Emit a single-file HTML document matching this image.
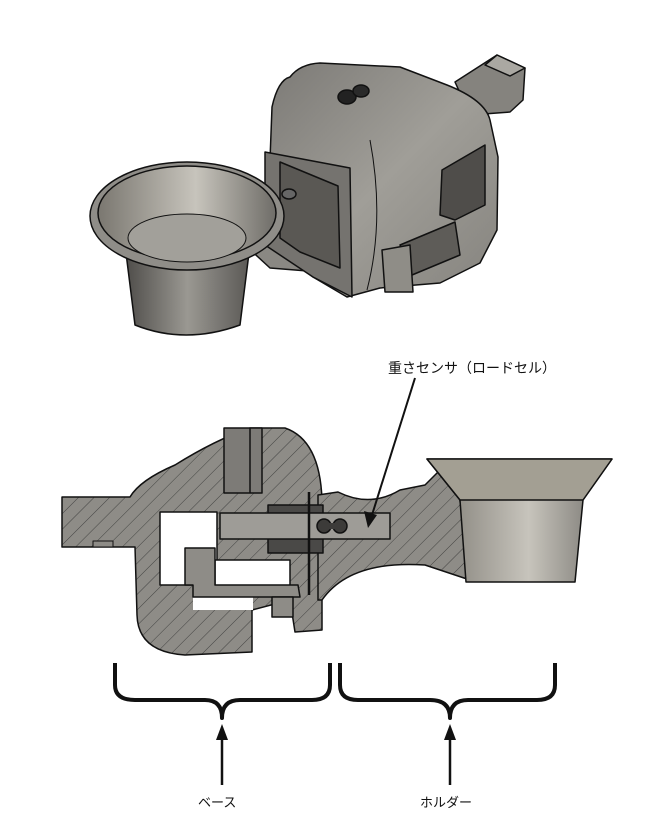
<!DOCTYPE html>
<html><head><meta charset="utf-8"><style>
html,body{margin:0;padding:0;background:#fff;}
svg{display:block;}
text{font-family:"Liberation Sans","Noto Sans CJK JP",sans-serif;}
</style></head><body>
<svg width="670" height="834" viewBox="0 0 670 834" xmlns="http://www.w3.org/2000/svg">
<defs>
<pattern id="h" width="11" height="11" patternUnits="userSpaceOnUse" patternTransform="rotate(45)">
<rect width="11" height="11" fill="#8e8c87"/><line x1="0" y1="0" x2="0" y2="11" stroke="#3a3a3a" stroke-width="0.9"/>
</pattern>
<linearGradient id="g1" x1="0" x2="1"><stop offset="0" stop-color="#4e4c49"/><stop offset="0.5" stop-color="#9a9892"/><stop offset="1" stop-color="#5a5855"/></linearGradient>
<linearGradient id="g2" x1="0" x2="1"><stop offset="0" stop-color="#7a7770"/><stop offset="0.55" stop-color="#c7c4bc"/><stop offset="1" stop-color="#6f6d68"/></linearGradient>
<linearGradient id="g3" x1="0" y1="0" x2="1" y2="1"><stop offset="0" stop-color="#7c7a76"/><stop offset="0.5" stop-color="#a09e98"/><stop offset="1" stop-color="#85837e"/></linearGradient>
</defs>
<g stroke="#111" stroke-width="1.5" stroke-linejoin="round">
<!-- top render -->
<path d="M455,82 L497,55 L525,68 L523,100 L510,112 L470,115 Z" fill="#85837e"/>
<path d="M497,55 L525,68 L510,76 L485,65 Z" fill="#aaa8a2"/>
<path d="M250,190 L290,178 L345,190 L348,262 L320,272 L270,268 L245,245 Z" fill="#8a8883"/>
<path d="M270,160 L272,107 Q278,80 290,77 Q300,64 320,63 L400,67 L447,85 Q485,100 490,120 L498,157 L497,230 L480,263 L440,283 L380,288 L347,297 L313,277 L270,243 Z" fill="url(#g3)"/>
<path d="M370,140 Q385,220 367,290" fill="none" stroke-width="1"/>
<path d="M265,152 L350,168 L352,297 L313,277 L265,245 Z" fill="#75736f"/>
<path d="M280,162 L338,186 L340,268 L300,252 L280,238 Z" fill="#5a5854"/>
<path d="M442,170 L485,145 L485,205 L455,220 L440,215 Z" fill="#4f4d4a"/>
<path d="M400,245 L455,222 L460,255 L412,275 Z" fill="#5e5c58"/>
<path d="M382,250 L410,245 L413,292 L385,292 Z" fill="#8f8d87"/>
<ellipse cx="347" cy="97" rx="9" ry="7" fill="#222"/><ellipse cx="361" cy="91" rx="8" ry="6" fill="#2a2a2a"/>
<ellipse cx="289" cy="194" rx="7" ry="5" fill="#666"/>
<path d="M125,245 L135,325 Q185,345 240,325 L250,245 Z" fill="url(#g1)"/>
<ellipse cx="187" cy="216" rx="97" ry="54" fill="#8f8d88"/>
<ellipse cx="187" cy="213" rx="89" ry="47" fill="url(#g2)"/>
<ellipse cx="187" cy="238" rx="59" ry="24" fill="#a2a09a" stroke-width="1"/>
<!-- section: base -->
<path d="M62,497 L130,497 Q140,480 175,465 Q215,440 250,428 L285,428 Q320,440 322,500 L322,630 L295,632 L290,600 L252,610 L252,652 L185,655 Q138,652 137,615 L135,547 L62,547 Z" fill="url(#h)"/>
<!-- holder -->
<path d="M318,495 L338,492 Q370,508 400,490 L425,485 L440,470 L458,485 L470,580 L425,565 Q350,560 322,600 L318,600 Z" fill="url(#h)"/>
<rect x="160" y="512" width="57" height="73" fill="#fff"/>
<rect x="215" y="560" width="75" height="28" fill="#fff"/>
<rect x="193" y="597" width="60" height="13" fill="#fff" stroke="none"/>
<path d="M185,548 L215,548 L215,585 L298,585 L300,597 L193,597 L193,585 L185,585 Z" fill="#8e8c87"/>
<rect x="272" y="597" width="21" height="20" fill="#8e8c87"/>
<rect x="224" y="428" width="38" height="65" fill="#7d7b77"/>
<line x1="250" y1="428" x2="250" y2="493"/>
<rect x="268" y="505" width="55" height="48" fill="#4a4947"/>
<rect x="220" y="513" width="170" height="26" fill="#9e9c97"/>
<circle cx="324" cy="526" r="7" fill="#3c3b39"/><circle cx="340" cy="526" r="7" fill="#3c3b39"/>
<rect x="323" y="523" width="16" height="6" fill="#3c3b39" stroke="none"/>
<line x1="309" y1="492" x2="309" y2="595" stroke-width="2.5"/>
<rect x="93" y="541" width="20" height="6" fill="#8e8c87" stroke-width="1"/>
<path d="M427,459 L612,459 L583,500 L575,582 L466,582 L460,500 Z" fill="url(#g2)"/>
<path d="M427,459 L612,459 L583,500 L460,500 Z" fill="#a39f93"/>
<!-- braces -->
<g fill="none" stroke-width="4">
<path d="M115,663 L115,685 Q115,700 135,700 L205,700 Q222,700 222,718 Q222,700 240,700 L312,700 Q330,700 330,685 L330,663"/>
<path d="M340,663 L340,685 Q340,700 358,700 L430,700 Q450,700 450,718 Q450,700 468,700 L537,700 Q555,700 555,685 L555,663"/>
</g>
<line x1="222" y1="785" x2="222" y2="738" stroke-width="2.5"/>
<line x1="450" y1="785" x2="450" y2="738" stroke-width="2.5"/>
<line x1="415" y1="378" x2="372" y2="515" stroke-width="2"/>
</g>
<polygon points="222,724 216,740 228,740" fill="#111"/>
<polygon points="450,724 444,740 456,740" fill="#111"/>
<polygon points="368,528 364,511 377,515" fill="#111"/>
<text x="388" y="373" font-size="14" fill="#111">重さセンサ（ロードセル）</text>
<text x="198" y="807" font-size="13" fill="#111">ベース</text>
<text x="420" y="807" font-size="13" fill="#111">ホルダー</text>
</svg>
</body></html>
